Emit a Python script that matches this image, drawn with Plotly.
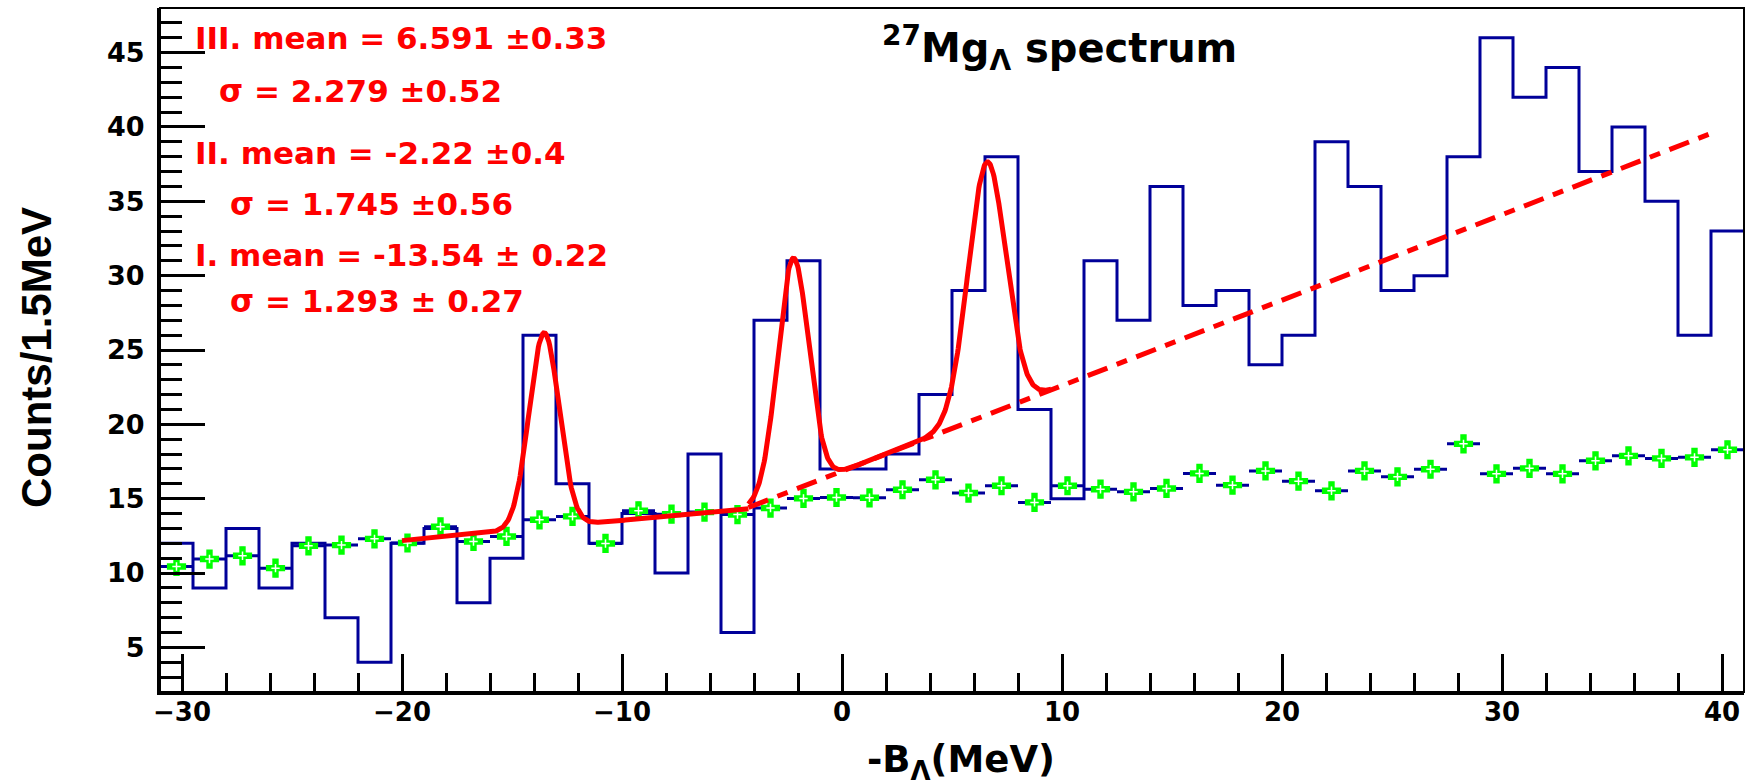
import numpy as np
import plotly.graph_objects as go

# ---------------- data ----------------
BIN_LO = -31.0
BIN_W = 1.5
counts = [12, 9, 13, 9, 12, 7, 4, 12, 13, 8, 11, 26, 16, 12, 14, 10, 18, 6,
          27, 31, 17, 17, 18, 22, 29, 38, 21, 15, 31, 27, 36, 28, 29, 24, 26,
          39, 36, 29, 30, 38, 46, 42, 44, 37, 40, 35, 26, 33]
bkg_counts = [10.44, 10.94, 11.16, 10.33, 11.83, 11.88, 12.30, 12.02, 13.11,
              12.12, 12.46, 13.58, 13.81, 11.99, 14.19, 13.96, 14.10, 13.93,
              14.37, 15.02, 15.08, 15.06, 15.60, 16.27, 15.38, 15.87, 14.75,
              15.87, 15.64, 15.46, 15.69, 16.70, 15.91, 16.87, 16.18, 15.53,
              16.87, 16.47, 16.98, 18.69, 16.67, 17.04, 16.67, 17.55, 17.88,
              17.71, 17.78, 18.29]
bkg_err = [0.6, 0.6, 0.6, 0.6, 0.6, 0.6, 0.6, 0.6, 0.6, 0.6, 0.6, 0.6,
           0.6, 0.6, 0.6, 0.6, 0.6, 0.6, 0.6, 0.6, 0.6, 0.6, 0.6, 0.6,
           0.6, 0.6, 0.6, 0.6, 0.6, 0.6, 0.6, 0.6, 0.6, 0.6, 0.6, 0.6,
           0.6, 0.6, 0.6, 0.6, 0.6, 0.6, 0.6, 0.6, 0.6, 0.6, 0.6, 0.6]

# fit parameters (peaks I, II, III) as drawn
peak_mean = [-13.54, -2.22, 6.59]
peak_sigma = [0.68, 0.70, 0.85]
peak_amp = [13.1, 15.6, 17.0]
bg1 = (14.9, 0.136)      # intercept, slope of background for fit I
bg2 = (16.85, 0.575)     # intercept, slope of background for fits II+III
fit1_range = (-20.0, -4.25)
fit2_range = (-4.25, 9.5)
bg2_range = (-4.25, 39.6)

fit_labels = ["III. mean = 6.591 ±0.33", "σ = 2.279 ±0.52",
              "II. mean = -2.22 ±0.4", "σ = 1.745 ±0.56",
              "I. mean = -13.54 ± 0.22", "σ = 1.293 ± 0.27"]

X_RANGE = [-31, 41]
Y_RANGE = [2, 48]

# ---------------- derived ----------------
edges = BIN_LO + BIN_W * np.arange(len(counts) + 1)
centers = edges[:-1] + BIN_W / 2


def gauss(x, k):
    return peak_amp[k] * np.exp(-0.5 * ((x - peak_mean[k]) / peak_sigma[k]) ** 2)


x1 = np.linspace(*fit1_range, 400)
y1 = bg1[0] + bg1[1] * x1 + gauss(x1, 0)
x2 = np.linspace(*fit2_range, 500)
y2 = bg2[0] + bg2[1] * x2 + gauss(x2, 1) + gauss(x2, 2)
xb = np.array(bg2_range)
yb = bg2[0] + bg2[1] * xb

W, H = 1746, 784
ML, MR, MT, MB = 160, 2, 8, 92
PW, PH = W - ML - MR, H - MT - MB


def px_x(px):
    return (px - ML) / PW


def px_y(py):
    return (H - MB - py) / PH


BLUE = "#000099"
RED = "#ff0000"
GREEN = "#00ff00"

fig = go.Figure()

fig.add_trace(go.Scatter(
    x=list(edges), y=counts + [counts[-1]], mode="lines",
    line=dict(color=BLUE, width=3, shape="hv"), hoverinfo="skip"))

fig.add_trace(go.Scatter(
    x=centers, y=bkg_counts, mode="markers",
    marker=dict(symbol="cross", size=16, color=GREEN, line=dict(width=0)),
    error_x=dict(type="constant", value=BIN_W / 2, thickness=3, width=0, color=BLUE),
    error_y=dict(type="data", array=bkg_err, thickness=3, width=0, color=BLUE)))
fig.add_trace(go.Scatter(
    x=centers, y=bkg_counts, mode="markers", hoverinfo="skip",
    marker=dict(symbol="cross-thin", size=6, color="white",
                line=dict(width=1.5, color="white"))))

fig.add_trace(go.Scatter(x=xb, y=yb, mode="lines",
                         line=dict(color=RED, width=5, dash="21px,10px,11px,10px")))
fig.add_trace(go.Scatter(x=x1, y=y1, mode="lines", line=dict(color=RED, width=5)))
fig.add_trace(go.Scatter(x=x2, y=y2, mode="lines", line=dict(color=RED, width=5)))

tickfont_x = dict(family="DejaVu Sans", size=26, color="black", weight="bold")
tickfont_y = dict(family="DejaVu Sans", size=27, color="black", weight="bold")

fig.update_xaxes(range=X_RANGE, tickmode="linear", tick0=0, dtick=10,
                 ticks="inside", ticklen=38, tickwidth=3, tickcolor="black",
                 minor=dict(ticks="inside", ticklen=19, tickwidth=3, tickcolor="black",
                            tick0=0, dtick=2),
                 showline=True, linewidth=3, linecolor="black", mirror=False,
                 showgrid=False, zeroline=False, tickfont=tickfont_x,
                 ticklabelstandoff=-5)
fig.update_yaxes(range=Y_RANGE, tickmode="linear", tick0=0, dtick=5,
                 ticks="inside", ticklen=45, tickwidth=3, tickcolor="black",
                 minor=dict(ticks="inside", ticklen=22, tickwidth=3, tickcolor="black",
                            tick0=0, dtick=1),
                 showline=True, linewidth=3, linecolor="black", mirror=False,
                 showgrid=False, zeroline=False, tickfont=tickfont_y,
                 ticklabelstandoff=7)

annotations = []
label_px = [(193, 38), (217, 91), (193, 153), (228, 204), (193, 255), (228, 301)]
for txt, (px, py) in zip(fit_labels, label_px):
    annotations.append(dict(text=txt, x=px_x(px), y=px_y(py), xref="paper", yref="paper",
                            xanchor="left", yanchor="middle", showarrow=False,
                            font=dict(family="DejaVu Sans", size=31, color=RED, weight="bold")))

annotations.append(dict(text="<sup>27</sup>Mg<sub>Λ</sub> spectrum",
                        x=px_x(880), y=px_y(48), xref="paper", yref="paper",
                        xanchor="left", yanchor="middle", showarrow=False,
                        font=dict(family="DejaVu Sans", size=40, color="black", weight="bold")))
annotations.append(dict(text="Counts/1.5MeV", textangle=-90,
                        x=px_x(36), y=px_y(358), xref="paper", yref="paper",
                        xanchor="center", yanchor="middle", showarrow=False,
                        font=dict(family="Liberation Sans", size=42, color="black", weight="bold")))
annotations.append(dict(text="-B<sub>Λ</sub>(MeV)",
                        x=px_x(961), y=px_y(762), xref="paper", yref="paper",
                        xanchor="center", yanchor="middle", showarrow=False,
                        font=dict(family="DejaVu Sans", size=37, color="black", weight="bold")))

fig.update_layout(
    width=W, height=H, margin=dict(l=ML, r=MR, t=MT, b=MB, pad=0),
    paper_bgcolor="white", plot_bgcolor="white", showlegend=False,
    annotations=annotations,
    shapes=[dict(type="rect", xref="paper", yref="paper", x0=0, y0=0, x1=1, y1=1,
                 line=dict(color="black", width=2), layer="above")])

fig.write_html("out.html")
